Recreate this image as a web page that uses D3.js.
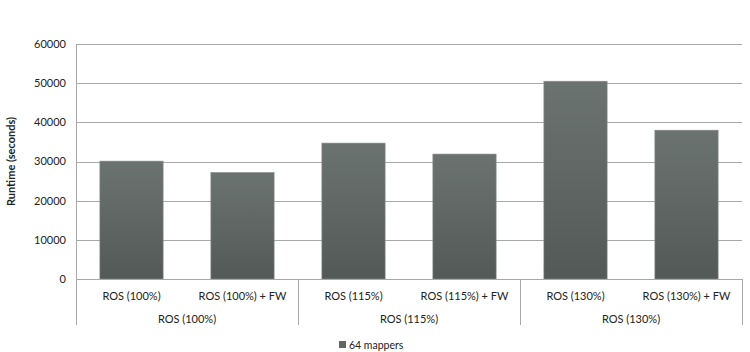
<!DOCTYPE html>
<html>
<head>
<style>
  body { margin: 0; background: #fff; }
  text { font-family: Lato, "Open Sans", sans-serif; fill: #222; }
</style>
</head>
<body>
<svg></svg>
<script src="https://d3js.org/d3.v7.min.js"></script>
<script>
const categories = ["ROS (100%)", "ROS (100%) + FW", "ROS (115%)", "ROS (115%) + FW", "ROS (130%)", "ROS (130%) + FW"];
const groups = ["ROS (100%)", "ROS (115%)", "ROS (130%)"];
const values = [30100, 27200, 34700, 31900, 50500, 38000];
const yTicks = [0, 10000, 20000, 30000, 40000, 50000, 60000];
const seriesName = "64 mappers";

const width = 750, height = 352;
const margin = { left: 76, right: 8, top: 44, bottom: 73 };

const svg = d3.select("svg").attr("width", width).attr("height", height);

const x = d3.scaleBand()
  .domain(categories)
  .range([margin.left, width - margin.right])
  .paddingInner(0.43)
  .paddingOuter(0.215);

const y = d3.scaleLinear()
  .domain([0, 60000])
  .range([height - margin.bottom, margin.top]);

const groupX = d3.scaleLinear().domain([0, groups.length]).range([margin.left, width - margin.right]);

// gradient for bars
const defs = svg.append("defs");
const grad = defs.append("linearGradient").attr("id", "barGrad")
  .attr("x1", 0).attr("y1", 0).attr("x2", 0).attr("y2", 1);
grad.append("stop").attr("offset", "0%").attr("stop-color", "#6b7371");
grad.append("stop").attr("offset", "100%").attr("stop-color", "#535957");

// gridlines
svg.append("g")
  .selectAll("line")
  .data(yTicks)
  .enter()
  .append("line")
  .attr("x1", margin.left)
  .attr("x2", width - margin.right)
  .attr("y1", d => Math.round(y(d)) + 0.5)
  .attr("y2", d => Math.round(y(d)) + 0.5)
  .attr("stroke", "#a8a8a8")
  .attr("stroke-width", 1);

// left axis line
svg.append("line")
  .attr("x1", margin.left + 0.5).attr("x2", margin.left + 0.5)
  .attr("y1", y(60000)).attr("y2", y(0))
  .attr("stroke", "#a8a8a8");

// y tick labels
svg.append("g")
  .selectAll("text")
  .data(yTicks)
  .enter()
  .append("text")
  .attr("x", margin.left - 10)
  .attr("y", d => y(d))
  .attr("dy", "0.35em")
  .attr("text-anchor", "end")
  .style("font-size", "11px")
  .text(d => d);

// y axis title
svg.append("text")
  .attr("transform", "translate(15," + ((y(0) + y(60000)) / 2) + ") rotate(-90)")
  .attr("text-anchor", "middle")
  .style("font-size", "11px")
  .style("font-weight", "bold")
  .text("Runtime (seconds)");

// bars
svg.append("g")
  .selectAll("rect")
  .data(values)
  .enter()
  .append("rect")
  .attr("x", (d, i) => x(categories[i]))
  .attr("y", d => y(d))
  .attr("width", x.bandwidth())
  .attr("height", d => y(0) - y(d))
  .attr("fill", "url(#barGrad)")
  .attr("stroke", "#8a8f8d")
  .attr("stroke-width", 0.6);

// category axis separators
svg.append("g")
  .selectAll("line")
  .data(d3.range(groups.length + 1))
  .enter()
  .append("line")
  .attr("x1", d => Math.round(groupX(d)) + 0.5)
  .attr("x2", d => Math.round(groupX(d)) + 0.5)
  .attr("y1", y(0))
  .attr("y2", y(0) + 46)
  .attr("stroke", "#a8a8a8");

// bottom axis line
svg.append("line")
  .attr("x1", margin.left).attr("x2", width - margin.right)
  .attr("y1", Math.round(y(0)) + 0.5).attr("y2", Math.round(y(0)) + 0.5)
  .attr("stroke", "#a8a8a8");

// category labels
svg.append("g")
  .selectAll("text")
  .data(categories)
  .enter()
  .append("text")
  .attr("x", d => x(d) + x.bandwidth() / 2)
  .attr("y", y(0) + 21)
  .attr("text-anchor", "middle")
  .style("font-size", "11px")
  .text(d => d);

// group labels
svg.append("g")
  .selectAll("text")
  .data(groups)
  .enter()
  .append("text")
  .attr("x", (d, i) => groupX(i + 0.5))
  .attr("y", y(0) + 44)
  .attr("text-anchor", "middle")
  .style("font-size", "11px")
  .text(d => d);

// legend
const legend = svg.append("g").attr("transform", "translate(339,345)");
legend.append("rect")
  .attr("width", 7).attr("height", 7)
  .attr("y", -4)
  .attr("fill", "#5f6664");
legend.append("text")
  .attr("x", 10)
  .attr("dy", "0.35em")
  .style("font-size", "10.5px")
  .text(seriesName);
</script>
</body>
</html>
